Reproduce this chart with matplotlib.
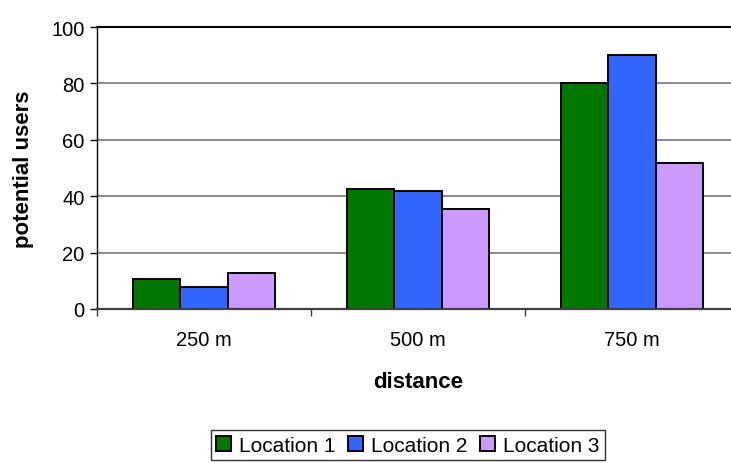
import numpy as np
import matplotlib
matplotlib.use("Agg")
import matplotlib.pyplot as plt

plt.rcParams['font.family'] = ['Liberation Sans', 'DejaVu Sans']

# %% data

distances = ["250 m", "500 m", "750 m"]
locations = ["Location 1", "Location 2", "Location 3"]
loc1 = [10.6, 42.5, 80.0]
loc2 = [7.8, 41.7, 90.0]
loc3 = [12.8, 35.4, 51.7]

colors = ["#007800", "#3366ff", "#cc99ff"]

# %% plot

fig = plt.figure(figsize=(7.31, 4.64), dpi=100)
ax = fig.add_axes([97/731, 154/464, 642/731, 282/464])

x = np.arange(len(distances))
w = 0.222
for k, (vals, col, lab) in enumerate(zip([loc1, loc2, loc3], colors, locations)):
    ax.bar(x + (k - 1) * w, vals, w, color=col, edgecolor="black",
           linewidth=1.4, label=lab, zorder=3)

ax.set_xlim(-0.5, 2.5)
ax.set_ylim(0, 100)
ax.set_yticks(np.arange(0, 101, 20))
ax.set_xticks(x, labels=distances)
ax.set_xticks([-0.5, 0.5, 1.5], minor=True)

# gridlines, the one at 100 is drawn darker like a frame
for yv in [20, 40, 60, 80]:
    ax.axhline(yv, color="#808080", lw=1.3, zorder=1)
ax.axhline(100, color="black", lw=1.5, zorder=1, clip_on=False)

for s in ["top", "right"]:
    ax.spines[s].set_visible(False)
ax.spines["left"].set_color("black")
ax.spines["left"].set_linewidth(1.0)
ax.spines["bottom"].set_color("#404040")
ax.spines["bottom"].set_linewidth(1.6)
ax.spines["bottom"].set_zorder(4)

ax.tick_params(axis="y", direction="out", length=5, width=1, labelsize=14.5, pad=4)
ax.tick_params(axis="x", which="major", length=0, labelsize=14.5, pad=15)
ax.tick_params(axis="x", which="minor", direction="out", length=5, width=1,
               color="#404040")

ax.set_xlabel("distance", fontsize=16, fontweight="bold", labelpad=16)
ax.set_ylabel("potential users", fontsize=16, fontweight="bold", labelpad=12)

leg = fig.legend(loc="lower center", bbox_to_anchor=(408/731, 0.0),
                 ncol=3, fontsize=15, frameon=True, fancybox=False,
                 edgecolor="black", handlelength=0.7, handleheight=0.7,
                 handletextpad=0.4, columnspacing=0.6, borderpad=0.25,
                 borderaxespad=0.15)
leg.get_frame().set_linewidth(1.0)

fig.savefig("out.png", dpi=100)
